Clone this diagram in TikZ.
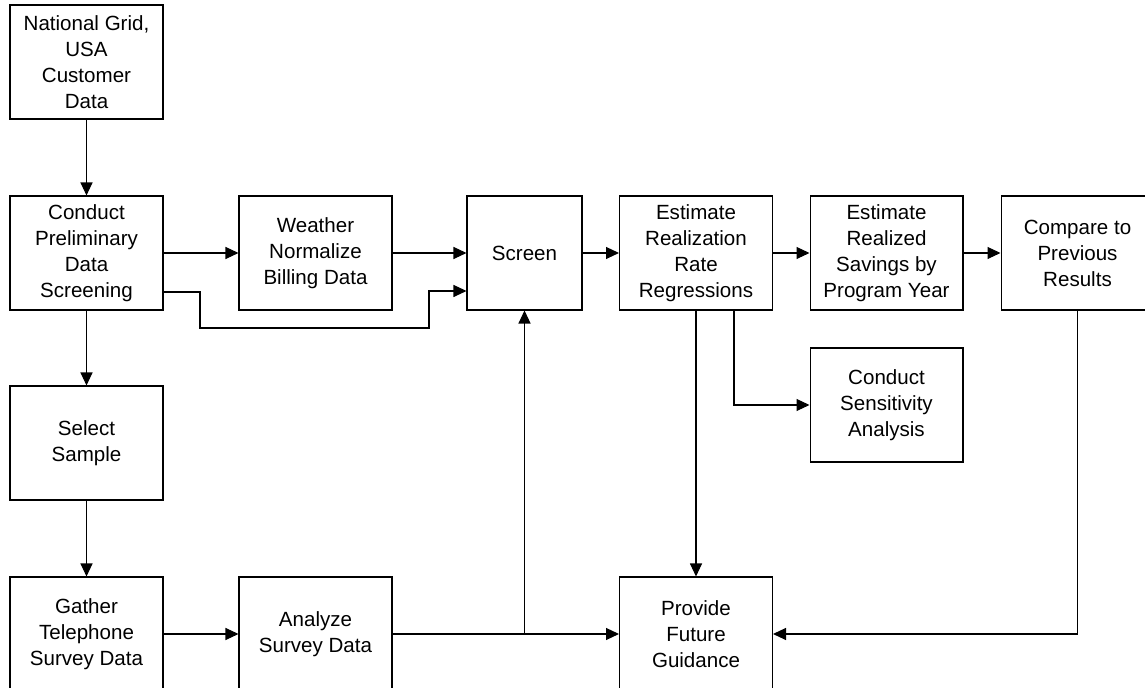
\documentclass[tikz,border=0pt]{standalone}
\usepackage{fontspec}
\setmainfont{Liberation Sans}
\usepackage{tikz}
\usetikzlibrary{arrows.meta}

\begin{document}
\begin{tikzpicture}[x=0.02cm,y=0.02cm,
    box/.style={rectangle,draw,line width=0.6pt,minimum width=3.06cm,minimum height=2.28cm,
      align=center,inner sep=1pt,font=\fontsize{11.7}{14.8}\selectfont},
    arr/.style={line width=0.6pt,-{Triangle[length=0.26cm,width=0.24cm]}}]

    \path[use as bounding box] (0,0) rectangle (1145,688);

    % Top row
    \node[box] (data)   at (86.5,626) {National Grid,\\USA\\Customer\\Data};
    \node[box] (prelim) at (86.5,435) {Conduct\\Preliminary\\Data\\Screening};
    \node[box] (weather) at (315.5,435) {Weather\\Normalize\\Billing Data};
    \node[box,minimum width=2.3cm] (screen) at (524.5,435) {Screen};
    \node[box] (regress) at (696,435) {Estimate\\Realization\\Rate\\Regressions};
    \node[box] (savings) at (886.5,435) {Estimate\\Realized\\Savings by\\Program Year};
    \node[box] (compare) at (1077.5,435) {Compare to\\Previous\\Results};

    % Middle row
    \node[box] (select) at (86.5,245) {Select\\Sample};
    \node[box] (sens)   at (886.5,283) {Conduct\\Sensitivity\\Analysis};

    % Bottom row
    \node[box] (gather)   at (86.5,54) {Gather\\Telephone\\Survey Data};
    \node[box] (analyze)  at (315.5,54) {Analyze\\Survey Data};
    \node[box] (guidance) at (696,54) {Provide\\Future\\Guidance};

    % Connectors
    \draw[arr] (data) -- (prelim);
    \draw[arr] (prelim) -- (weather);
    \draw[arr] ([yshift=-0.78cm]prelim.east) -| (200,360) -- (429,360) |- ([yshift=-0.76cm]screen.west);
    \draw[arr] (weather) -- (screen);
    \draw[arr] (screen) -- (regress);
    \draw[arr] (regress) -- (savings);
    \draw[arr] (savings) -- (compare);
    \draw[arr] ([xshift=0.76cm]regress.south) |- (sens.west);
    \draw[arr] (regress) -- (guidance);
    \draw[arr] (prelim) -- (select);
    \draw[arr] (select) -- (gather);
    \draw[arr] (gather) -- (analyze);
    \draw[arr] (analyze) -- (guidance);
    \draw[arr] (screen.south |- analyze.east) -- (screen.south);
    \draw[arr] (compare.south) |- (guidance.east);
  \end{tikzpicture}
\end{document}
